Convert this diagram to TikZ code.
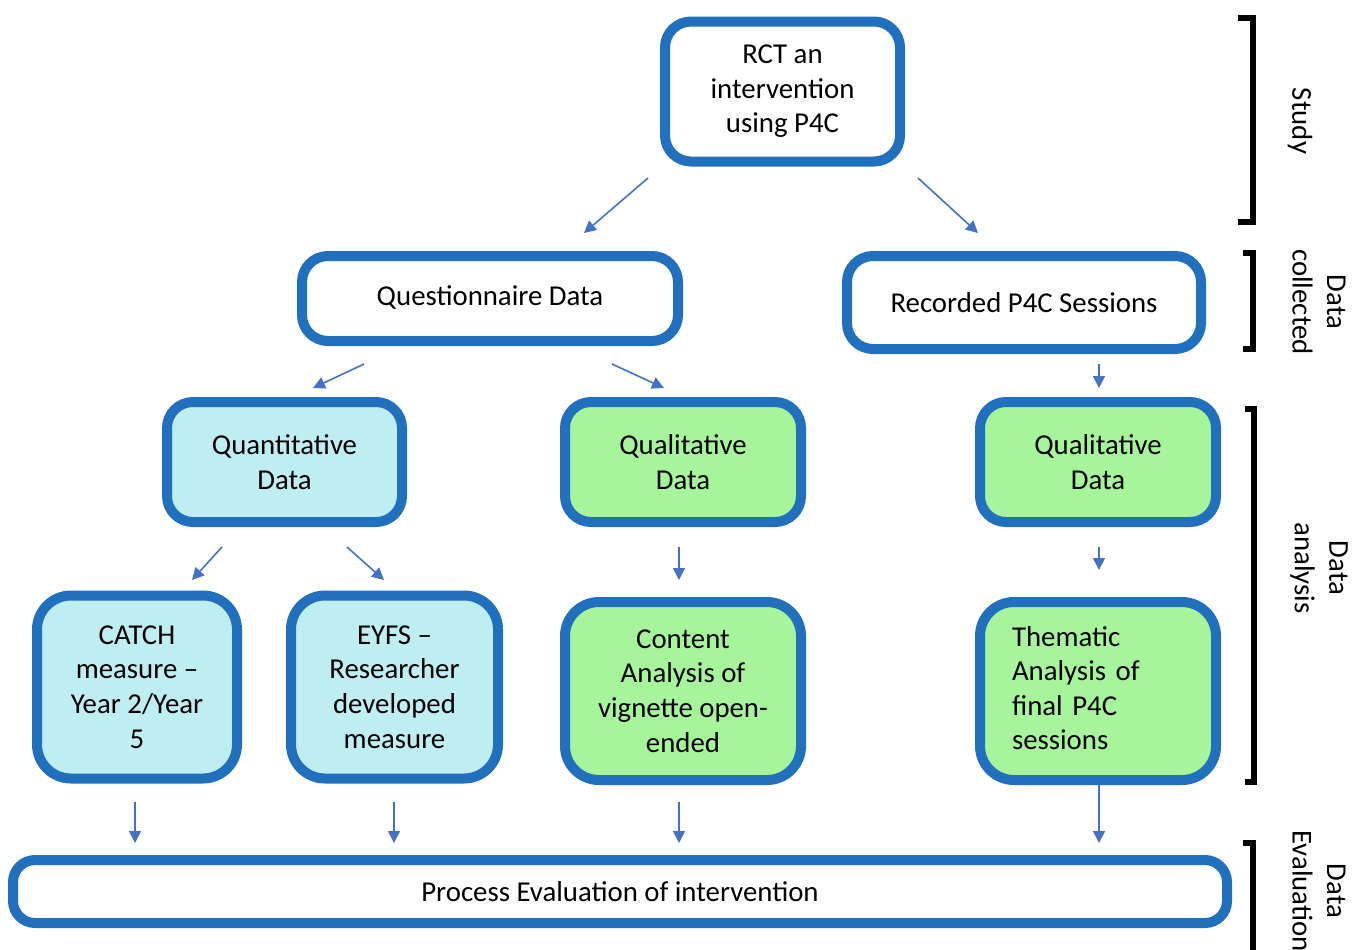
\documentclass[tikz,border=0pt]{standalone}
\usepackage{fontspec}
\setmainfont{Carlito}
\usetikzlibrary{arrows.meta}
\definecolor{boxblue}{HTML}{2170BE}
\definecolor{arrowblue}{HTML}{4472C4}
\definecolor{quantfill}{HTML}{BEEEF2}
\definecolor{qualfill}{HTML}{A6F59A}
\begin{document}
\begin{tikzpicture}[x=0.5pt,y=-0.5pt,
  txt/.style={font=\fontsize{14.4}{17.3}\selectfont},
  box/.style={txt, draw=boxblue, line width=5pt, rounded corners=13pt,
    fill=white, align=center, inner sep=0pt},
  quant/.style={box, fill=quantfill},
  qual/.style={box, fill=qualfill},
  arr/.style={draw=arrowblue, line width=0.8pt,
    -{Triangle[length=6pt,width=6pt]}},
  brk/.style={draw=black, line width=2.6pt},
  side/.style={txt, rotate=-90, align=center, inner sep=0pt}]
\useasboundingbox (0,0) rectangle (1368,949);

% boxes
\node[box, minimum width=117.5pt, minimum height=70pt] (rct) at (782.5,91.5)
  {RCT an\\intervention\\using P4C};
\node[box, minimum width=188pt, minimum height=42.5pt] (quest) at (490,298.5)
  {\raisebox{3pt}{Questionnaire Data}};
\node[box, minimum width=177pt, minimum height=46.5pt] (rec) at (1024,302.5)
  {Recorded P4C Sessions};
\node[quant, minimum width=117.5pt, minimum height=60pt] (quantd) at (284.5,462)
  {Quantitative\\Data};
\node[qual, minimum width=118pt, minimum height=60pt] (quala) at (683,462)
  {Qualitative\\Data};
\node[qual, minimum width=118pt, minimum height=60pt] (qualb) at (1098,462)
  {Qualitative\\Data};
\node[quant, rounded corners=17pt, minimum width=100pt, minimum height=91.5pt] (catch) at (137,687)
  {CATCH\\measure –\\Year 2/Year\\5};
\node[quant, rounded corners=17pt, minimum width=103.5pt, minimum height=91.5pt] (eyfs) at (394.5,687)
  {EYFS –\\Researcher\\developed\\measure};
\node[qual, rounded corners=17pt, minimum width=118pt, minimum height=89pt] (content) at (683,691)
  {Content\\Analysis of\\vignette open-\\ended};
\node[qual, rounded corners=17pt, minimum width=118pt, minimum height=89pt,
  text width=86pt, align=left] (thematic) at (1098,691)
  {\begin{tabular}{@{}l@{}}Thematic\\Analysis of\\final P4C\\sessions\end{tabular}};
\node[box, rounded corners=11pt, minimum width=607pt, minimum height=31.5pt] (proc) at (620,891.5)
  {Process Evaluation of intervention};

% arrow end points
\coordinate (a1s) at (648,178);  \coordinate (a1e) at (584,233);
\coordinate (a2s) at (918,178);  \coordinate (a2e) at (978,233);
\coordinate (a3s) at (364,364);  \coordinate (a3e) at (313,388);
\coordinate (a4s) at (612,364);  \coordinate (a4e) at (664,388);
\coordinate (a5s) at (1099,364); \coordinate (a5e) at (1099,388);
\coordinate (a6s) at (222,547);  \coordinate (a6e) at (192,580);
\coordinate (a7s) at (347,547);  \coordinate (a7e) at (384,580);
\coordinate (a8s) at (679,547);  \coordinate (a8e) at (679,580);
\coordinate (a9s) at (1099,547); \coordinate (a9e) at (1099,570);
\coordinate (b1s) at (135,802);  \coordinate (b1e) at (135,843);
\coordinate (b2s) at (394,802);  \coordinate (b2e) at (394,843);
\coordinate (b3s) at (679,802);  \coordinate (b3e) at (679,843);
\coordinate (b4e) at (1099,843);

% arrows
\draw[arr] (a1s) -- (a1e);
\draw[arr] (a2s) -- (a2e);
\draw[arr] (a3s) -- (a3e);
\draw[arr] (a4s) -- (a4e);
\draw[arr] (a5s) -- (a5e);
\draw[arr] (a6s) -- (a6e);
\draw[arr] (a7s) -- (a7e);
\draw[arr] (a8s) -- (a8e);
\draw[arr] (a9s) -- (a9e);
\draw[arr] (b1s) -- (b1e);
\draw[arr] (b2s) -- (b2e);
\draw[arr] (b3s) -- (b3e);
\draw[arr] (thematic.south -| b4e) -- (b4e);

% brackets for the stages
\draw[brk] (1238,18) -- (1253,18) -- (1253,222) -- (1238,222);
\draw[brk] (1243,253) -- (1253,253) -- (1253,349) -- (1243,349);
\draw[brk] (1245,409) -- (1254,409) -- (1254,782) -- (1245,782);
\draw[brk] (1243,843) -- (1253,843) -- (1253,960);

% stage labels
\node[side] (lstudy) at (1300,121) {Study};
\node[side] (lcoll) at (1319,302) {Data\\collected};
\node[side] (lanal) at (1319,568) {Data\\analysis};
\node[side] (leval) at (1319,891) {Data\\Evaluation};
\end{tikzpicture}
\end{document}
